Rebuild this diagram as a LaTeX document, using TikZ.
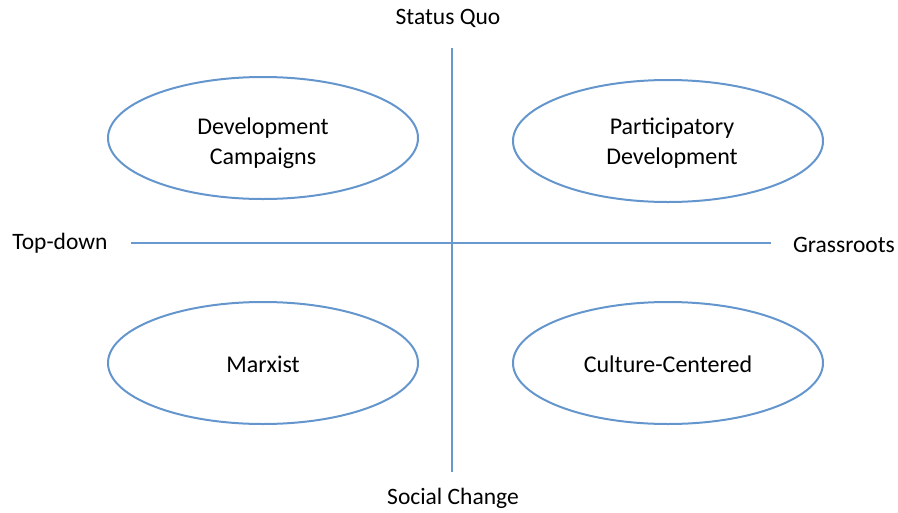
\documentclass[tikz,border=0pt]{standalone}
\usepackage{fontspec}
\setmainfont{Carlito}
\usetikzlibrary{shapes.geometric}
\definecolor{axisblue}{RGB}{104,152,206}
\definecolor{rimblue}{RGB}{100,150,205}
\tikzset{
  axis/.style={draw=axisblue, line width=2.6pt},
  oval/.style={ellipse, draw=rimblue, line width=2pt, minimum width=310pt, minimum height=122pt, inner sep=0pt},
  ovaltext/.style={align=center, font=\fontsize{24}{30}\selectfont, inner sep=0pt},
  pole/.style={font=\fontsize{23.5}{28}\selectfont, inner sep=0pt}
}
\begin{document}
\begin{tikzpicture}[x=1pt,y=-1pt]
  \useasboundingbox (0,0) rectangle (898,512);
  % axes
  \coordinate (vtop) at (452,48);
  \coordinate (vbot) at (452,472);
  \coordinate (hleft) at (131,243);
  \coordinate (hright) at (771,243);
  \draw[axis] (vtop) -- (vbot);
  \draw[axis] (hleft) -- (hright);
  % pole labels
  \node[pole] (sq) at (448,18) {Status Quo};
  \node[pole] (sc) at (453,498) {Social Change};
  \node[pole] (td) at (60,243) {Top-down};
  \node[pole] (gr) at (844,245) {Grassroots};
  % quadrants
  \node[oval] (dc) at (263,138) {};
  \node[ovaltext] at (263,143) {Development\\Campaigns};
  \node[oval] (pd) at (668,141) {};
  \node[ovaltext] at (672,143) {Participatory\\Development};
  \node[oval] (mx) at (263,363) {};
  \node[ovaltext] at (263,364) {Marxist};
  \node[oval] (cc) at (668,363) {};
  \node[ovaltext] at (668,364) {Culture-Centered};
\end{tikzpicture}
\end{document}
